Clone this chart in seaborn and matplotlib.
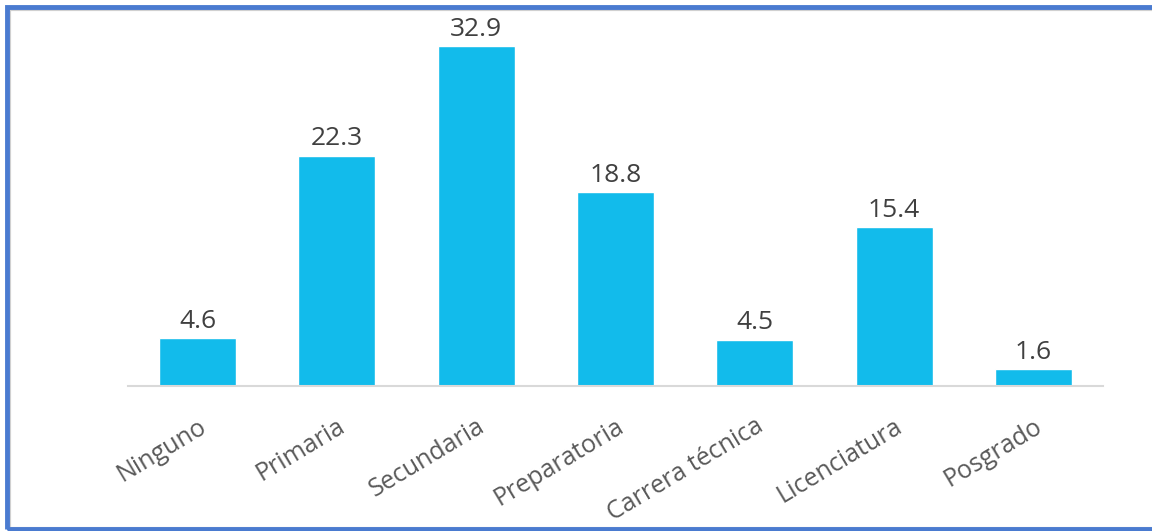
import matplotlib
matplotlib.use("Agg")
import matplotlib.pyplot as plt
import seaborn as sns
import pandas as pd
from matplotlib.patches import Rectangle

categories = ["Ninguno", "Primaria", "Secundaria", "Preparatoria", "Carrera técnica", "Licenciatura", "Posgrado"]
values = [4.6, 22.3, 32.9, 18.8, 4.5, 15.4, 1.6]

df = pd.DataFrame({"cat": categories, "val": values})

sns.set_theme(style="white")
plt.rcParams['font.family'] = ['Open Sans', 'DejaVu Sans']

fig = plt.figure(figsize=(11.52, 5.31), dpi=100)
ax = fig.add_axes([128/1152, 1-386/531, (1103-128)/1152, (386-30)/531])

sns.barplot(data=df, x="cat", y="val", color="#12BBEB", saturation=1, width=0.553, ax=ax)
ax.set_xlim(-0.5, 6.5)
ax.set_ylim(0, (386-30)/10.33)

for i, v in enumerate(values):
    ax.annotate(f"{v}", (i, v), xytext=(0, 3), textcoords="offset points",
                ha="center", va="bottom", fontsize=19, color="#404040")

ax.set_xlabel("")
ax.set_ylabel("")
ax.set_yticks([])
for s in ["top", "right", "left"]:
    ax.spines[s].set_visible(False)
ax.spines["bottom"].set_color("#D9D9D9")
ax.spines["bottom"].set_linewidth(1.5)
ax.tick_params(axis="x", length=0, pad=20)
ax.set_xticks(range(len(categories)))
ax.set_xticklabels(categories, rotation=31, ha="right", rotation_mode="anchor",
                   fontsize=18, color="#595959")

# frame border
fig.patches.append(Rectangle((9/1152, 2/531), 1.2, 1-11/531, transform=fig.transFigure,
                             fill=False, edgecolor="#D0D0D0", linewidth=3, zorder=0))
fig.patches.append(Rectangle((7/1152, 2/531), 1.2, 1-9/531, transform=fig.transFigure,
                             fill=False, edgecolor="#4A7BD0", linewidth=3.5, zorder=1))

fig.savefig("out.png", dpi=100)
